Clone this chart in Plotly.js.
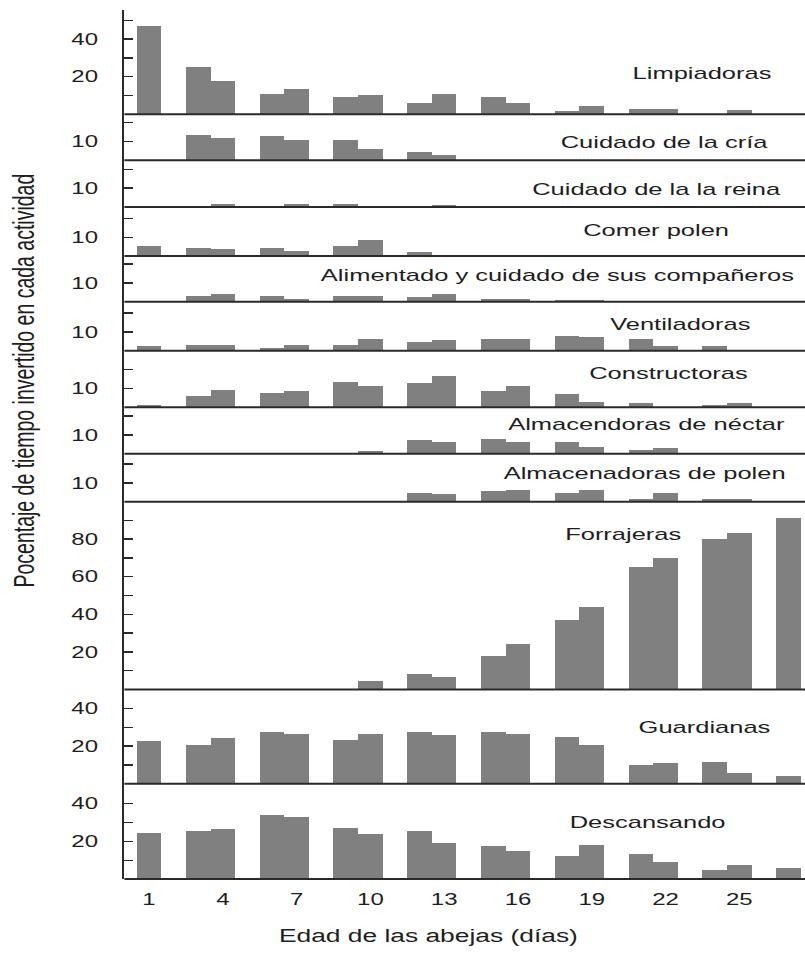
<!DOCTYPE html>
<html>
<head>
<meta charset="utf-8">
<script src="https://cdn.plot.ly/plotly-3.0.1.min.js"></script>
<style>
  html, body { margin: 0; padding: 0; background: #fff; overflow: hidden; }
  /* the figure is laid out narrow and widened horizontally */
  #chart { width: 537px; height: 953px; transform: scaleX(1.49907); transform-origin: 0 0; }
</style>
</head>
<body>
<div id="chart"></div>
<script>
// Age of the bees (days) for every bar
const days = [1, 3, 4, 6, 7, 9, 10, 12, 13, 15, 16, 18, 19, 21, 22, 24, 25, 27];
const dayTicks = [1, 4, 7, 10, 13, 16, 19, 22, 25];

// Percentage of time spent in each activity
const limpiadoras   = [47.0, 25.0, 17.6, 11.0, 13.5, 9.2, 10.1, 6.2, 11.0, 9.4, 6.0, 1.9, 4.4, 3.0, 3.0, 0, 2.1, 0];
const cuidadoCria   = [0, 13.5, 11.7, 12.8, 11.0, 11.0, 6.0, 4.3, 2.8, 0, 0, 0, 0, 0, 0, 0, 0, 0];
const cuidadoReina  = [0, 0.7, 1.5, 0.7, 1.5, 1.5, 0, 0, 0.8, 0, 0, 0, 0, 0, 0, 0, 0, 0];
const comerPolen    = [5.3, 4.4, 3.5, 4.4, 2.8, 5.3, 8.5, 2.0, 0, 0, 0, 0, 0, 0, 0, 0, 0, 0];
const alimentado    = [0, 3.2, 4.1, 3.2, 1.6, 3.2, 3.2, 2.3, 4.1, 1.6, 1.6, 0.9, 0.9, 0, 0, 0, 0, 0];
const ventiladoras  = [2.3, 3.0, 3.0, 1.4, 3.0, 3.0, 6.4, 4.8, 5.5, 6.4, 6.4, 8.0, 7.3, 6.4, 2.3, 2.3, 0, 0];
const constructoras = [1.2, 6.2, 9.4, 7.8, 8.5, 13.6, 11.2, 12.8, 16.8, 8.5, 11.2, 7.1, 2.8, 2.1, 0, 1.2, 2.1, 0];
const nectar        = [0, 0, 0, 0, 0, 0, 1.4, 7.1, 6.2, 7.8, 6.2, 6.2, 3.7, 2.1, 2.8, 0, 0, 0];
const polenAlmacen  = [0, 0, 0, 0, 0, 0, 0, 4.6, 3.9, 5.5, 6.4, 4.6, 6.4, 1.2, 4.6, 1.2, 1.2, 0];
const forrajeras    = [0, 0, 0, 0, 0, 0, 4.4, 8.5, 6.9, 17.7, 24.1, 37.2, 43.8, 65.2, 70.0, 79.8, 83.1, 91.3];
const guardianas    = [22.6, 20.7, 24.1, 27.5, 26.6, 23.2, 26.6, 27.5, 25.7, 27.5, 26.6, 25.0, 20.7, 9.9, 11.2, 11.7, 5.9, 4.3];
const descansando   = [24.6, 25.7, 26.4, 33.9, 33.1, 27.3, 23.9, 25.7, 19.0, 17.4, 14.9, 12.4, 18.2, 13.3, 9.2, 4.9, 7.4, 5.9];

const panelNames = [
  'Limpiadoras', 'Cuidado de la cría', 'Cuidado de la la reina', 'Comer polen',
  'Alimentado y cuidado de sus compañeros', 'Ventiladoras', 'Constructoras',
  'Almacendoras de néctar', 'Almacenadoras de polen', 'Forrajeras',
  'Guardianas', 'Descansando'
];
const panelValues = [
  limpiadoras, cuidadoCria, cuidadoReina, comerPolen, alimentado, ventiladoras,
  constructoras, nectar, polenAlmacen, forrajeras, guardianas, descansando
];

// y tick marks and their labels
const ticksTop = [10, 20, 30, 40, 50],  labelsTop = ['', '20', '', '40', ''];
const ticksSmall = [10, 20],             labelsSmall = ['10', ''];
const ticksForr = [10, 20, 30, 40, 50, 60, 70, 80, 90];
const labelsForr = ['', '20', '', '40', '', '60', '', '80', ''];
const ticksMid = [10, 20, 30, 40],       labelsMid = ['', '20', '', '40'];
const panelTicks = [
  [ticksTop, labelsTop], [ticksSmall, labelsSmall], [ticksSmall, labelsSmall],
  [ticksSmall, labelsSmall], [ticksSmall, labelsSmall], [ticksSmall, labelsSmall],
  [ticksSmall, labelsSmall], [ticksSmall, labelsSmall], [ticksSmall, labelsSmall],
  [ticksForr, labelsForr], [ticksMid, labelsMid], [ticksMid, labelsMid]
];

// ---- layout geometry (page pixels, before the horizontal widening) ----
const PAGE_W = 805, PAGE_H = 953;
const STRETCH = PAGE_W / 537;
const plotLeft = 124, plotRight = 805, plotTop = 10, plotBottom = 879;
const plotH = plotBottom - plotTop, plotW = plotRight - plotLeft;
// panel edges from top to bottom; every panel shares the same units-per-pixel
const edges = [10, 114.3, 160.3, 206.9, 256, 301.7, 350.7, 407.3, 453.7, 501.7, 689.5, 783.7, 879];
const pxPerUnit = 1.88;
const labelPos = [
  [702, 73], [665, 142], [656, 189], [656, 231], [558, 276], [680, 324],
  [668, 374], [647, 425], [644, 473], [622, 534], [705, 727], [648, 822]
];

const FONT = '"Liberation Sans", Arial, Helvetica, sans-serif';
const INK = '#1e1e1e';
const BAR = '#808080';
const LINE = '#2a2a2a';

const px2py = y => (plotBottom - y) / plotH;
const px2px = x => (x - plotLeft) / plotW;

const traces = [];
const layout = {
  width: 537, height: PAGE_H,
  margin: { l: plotLeft / STRETCH, r: 0, t: plotTop, b: PAGE_H - plotBottom, pad: 0 },
  paper_bgcolor: '#fff', plot_bgcolor: '#fff',
  showlegend: false, bargap: 0,
  font: { family: FONT, color: INK, size: 16 },
  xaxis: {
    anchor: 'y12', range: [0, 27.67],
    tickvals: dayTicks, ticktext: dayTicks.map(String),
    ticks: '', showgrid: false, zeroline: false, showline: false,
    tickfont: { size: 16, color: INK }, ticklabelstandoff: 9
  },
  shapes: [],
  annotations: []
};

panelValues.forEach((vals, i) => {
  const n = i + 1;
  const yName = n === 1 ? 'y' : 'y' + n;
  const yKey = n === 1 ? 'yaxis' : 'yaxis' + n;
  const top = edges[i], bottom = edges[i + 1];
  traces.push({
    type: 'bar', x: days, y: vals, xaxis: 'x', yaxis: yName,
    width: 1, marker: { color: BAR, line: { width: 0 } },
    hoverinfo: 'skip'
  });
  layout[yKey] = {
    domain: [px2py(bottom), px2py(top)],
    range: [0, (bottom - top) / pxPerUnit],
    anchor: 'x', showgrid: false, zeroline: false,
    showline: true, linecolor: LINE, linewidth: 1.4,
    ticks: 'inside', ticklen: 6, tickwidth: 1.4, tickcolor: LINE,
    tickvals: panelTicks[i][0], ticktext: panelTicks[i][1],
    tickfont: { size: 16, color: INK }, ticklabelstandoff: 13,
    fixedrange: true
  };
  // separator under each panel
  layout.shapes.push({
    type: 'line', xref: 'paper', x0: 0, x1: 1,
    yref: yName + ' domain', y0: 0, y1: 0,
    line: { color: LINE, width: 2 }
  });
  layout.annotations.push({
    text: panelNames[i], xref: 'paper', yref: 'paper',
    x: px2px(labelPos[i][0]), y: px2py(labelPos[i][1]),
    xanchor: 'center', yanchor: 'middle', showarrow: false,
    font: { size: 17, color: INK }
  });
});

// axis titles
layout.annotations.push({
  text: 'Pocentaje de tiempo invertido en cada actividad',
  xref: 'paper', yref: 'paper', x: px2px(23), y: px2py(381),
  xanchor: 'center', yanchor: 'middle', textangle: -90, showarrow: false,
  font: { size: 19.5, color: INK }
});
layout.annotations.push({
  text: 'Edad de las abejas (días)',
  xref: 'paper', yref: 'paper', x: px2px(429), y: px2py(936),
  xanchor: 'center', yanchor: 'middle', showarrow: false,
  font: { size: 17.6, color: INK }
});

Plotly.newPlot('chart', traces, layout, { displayModeBar: false, staticPlot: true });
</script>
</body>
</html>
